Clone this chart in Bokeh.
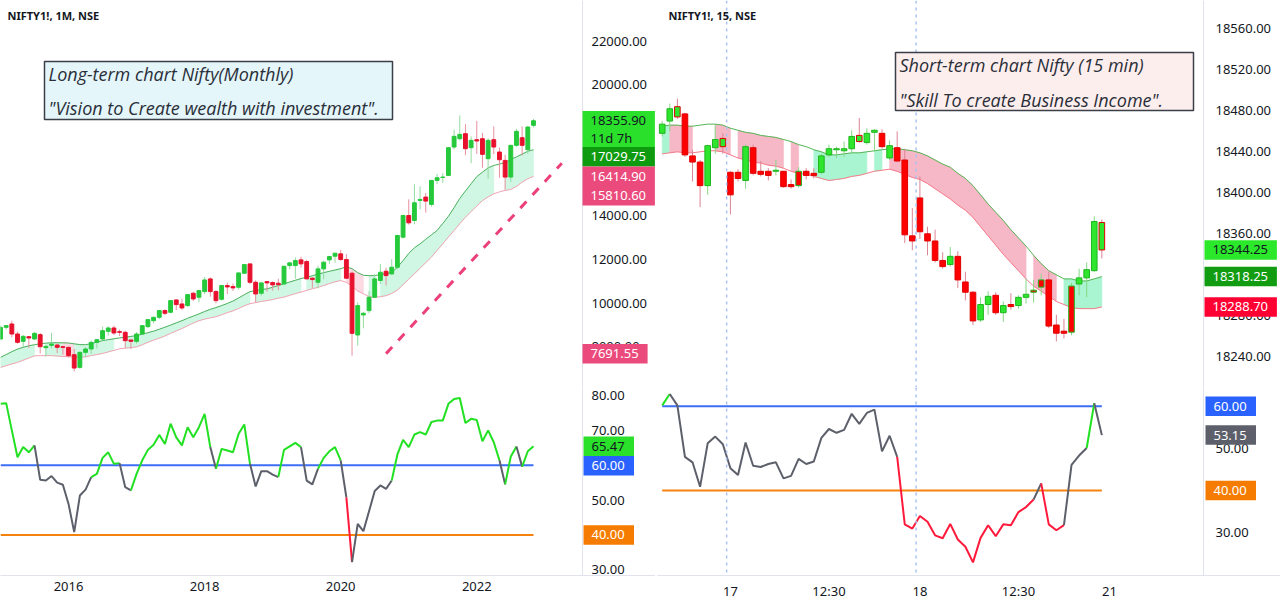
from bokeh.plotting import figure
from bokeh.models import Range1d, FixedTicker, PrintfTickFormatter, Label, Span, BoxAnnotation
from bokeh.layouts import row, column
from bokeh.embed import file_html
from bokeh.resources import INLINE

# ===================== LEFT: NIFTY1!, 1M (Jan 2015 .. Nov 2022) =====================
m_open = [8361, 8896, 9049, 8590, 8254, 8468, 8361, 8560, 7964, 8071, 8086, 8009,
          7979, 7643, 7062, 7750, 7903, 8208, 8361, 8713, 8866, 8698, 8667, 8316,
          8254, 8590, 8927, 9202, 9355, 9661, 9584, 10150, 9966, 9890, 10456, 10272,
          10532, 11113, 10532, 10180, 10807, 10761, 10731, 11373, 11801, 10960, 10456, 10991,
          10945, 10915, 10884, 11725, 11725, 11985, 11908, 11144, 10960, 11572, 11985, 12153,
          12260, 12000, 11374, 8545, 9462, 9661, 10272, 11038, 11465, 11342, 11648, 13025,
          14018, 13789, 14707, 14860, 14524, 15624, 15760, 15853, 17153, 17535, 17765, 17123,
          17490, 17535, 16618, 17490, 16924, 16541, 15777, 17230, 17581, 17031, 18147]
m_high = [8990, 9000, 9202, 8700, 8540, 8500, 8680, 8640, 8100, 8650, 8150, 8050,
          8000, 7903, 7800, 7990, 8280, 8350, 8927, 8950, 8973, 8800, 8743, 8320,
          8680, 8990, 9260, 9380, 9680, 9720, 10130, 10170, 10200, 10400, 10520, 10580,
          11200, 11180, 10600, 10830, 10950, 10900, 11400, 11780, 11820, 11050, 10950, 11000,
          11000, 11120, 11700, 11900, 12100, 12130, 11990, 11200, 11720, 11950, 12170, 12300,
          12444, 12250, 11450, 10043, 9600, 10550, 11340, 11800, 11620, 12020, 13140, 14050,
          14760, 15450, 15350, 15050, 15650, 15920, 15960, 17150, 17950, 18600, 18200, 17640,
          18350, 17800, 17560, 18100, 17130, 16800, 17250, 17990, 18100, 18100, 18443]
m_low = [8300, 8800, 8438, 8150, 7990, 7950, 8320, 7700, 7560, 7930, 7720, 7643,
         7520, 6878, 7000, 7520, 7680, 7930, 8300, 8520, 8550, 8500, 7949, 7900,
         8150, 8540, 8860, 9080, 9270, 9450, 9540, 9690, 9700, 9830, 10100, 10050,
         10420, 10300, 9997, 10120, 10420, 10560, 10620, 11350, 10870, 10043, 10340, 10530,
         10580, 10600, 10820, 11550, 11120, 11630, 11100, 10700, 10680, 11100, 11800, 11850,
         11950, 11180, 7597, 8055, 8850, 9540, 10250, 10880, 10808, 11300, 11560, 12970,
         13600, 13620, 14300, 14150, 14420, 15450, 15510, 15830, 17050, 17450, 16780, 16410,
         16840, 16200, 15700, 16830, 15740, 15200, 15550, 17160, 16760, 16850, 18050]
m_close = [8896, 8973, 8590, 8208, 8484, 8407, 8621, 8009, 8025, 8132, 7979, 7979,
           7597, 7031, 7750, 7903, 8208, 8330, 8743, 8866, 8637, 8667, 8285, 8254,
           8590, 8973, 9248, 9355, 9661, 9538, 10119, 9936, 9783, 10395, 10196, 10578,
           11067, 10532, 10119, 10807, 10746, 10700, 11388, 11770, 10960, 10425, 10930, 10930,
           10838, 10853, 11694, 11847, 11954, 11802, 11114, 11083, 11572, 11878, 12138, 12291,
           12000, 11144, 8621, 9890, 9539, 10272, 11114, 11419, 11266, 11648, 13101, 14018,
           13682, 14600, 14753, 14677, 15624, 15746, 15777, 17123, 17642, 17734, 17077, 17459,
           17429, 16817, 17459, 17153, 16572, 15777, 17230, 17872, 17230, 18070, 18355.90]
m_band_up = [7520, 7650, 7780, 7900, 7980, 8050, 8100, 8140, 8170, 8190, 8190, 8185,
             8178, 8140, 8105, 8100, 8150, 8220, 8285, 8330, 8370, 8410, 8445, 8480,
             8520, 8580, 8650, 8720, 8810, 8900, 9000, 9100, 9200, 9310, 9410, 9510,
             9620, 9720, 9800, 9890, 9990, 10100, 10240, 10390, 10530, 10580, 10620, 10660,
             10730, 10810, 10890, 10970, 11050, 11130, 11190, 11260, 11330, 11400, 11460, 11520,
             11580, 11670, 11580, 11400, 11280, 11260, 11265, 11310, 11360, 11410, 11650, 11950,
             12280, 12540, 12720, 12930, 13130, 13330, 13650, 13980, 14380, 14800, 15140, 15470,
             15800, 16000, 16200, 16310, 16370, 16440, 16590, 16700, 16830, 16960, 17029.75]
m_band_lo = [7060, 7140, 7220, 7290, 7390, 7490, 7590, 7600, 7600, 7600, 7580, 7560,
             7550, 7530, 7520, 7545, 7600, 7650, 7700, 7770, 7840, 7910, 7940, 7970,
             8000, 8100, 8210, 8310, 8400, 8500, 8620, 8730, 8840, 8970, 9090, 9200,
             9270, 9330, 9380, 9470, 9570, 9650, 9760, 9880, 9980, 10030, 10080, 10120,
             10170, 10230, 10280, 10360, 10440, 10510, 10590, 10660, 10730, 10810, 10900, 10980,
             11040, 10960, 10780, 10560, 10430, 10300, 10270, 10300, 10345, 10450, 10600, 10850,
             11100, 11350, 11600, 11860, 12110, 12420, 12720, 13030, 13330, 13640, 13940, 14200,
             14450, 14700, 14870, 15010, 15100, 15170, 15210, 15350, 15550, 15700, 15810.60]
# fill colour of each band segment (g = green, p = pink, w = none)
m_band_state = ("gggggg" "ww" "ggg" "pp" "ggggggg" "ww" "gggggggggggggggggggggg" "w"
                "gggggggg" "w" "gggggg" "w" "ppp" "w" "g" "w" "gggggggggggggggggggg" "ww" "ggggg")
m_rsi = [77.6, 77.8, 70.0, 62.3, 65.2, 63.7, 65.7, 55.8, 55.6, 56.9,
         55.0, 54.4, 48.9, 40.8, 51.3, 53.0, 56.6, 57.5, 62.1, 63.7,
         60.4, 60.6, 53.7, 52.8, 57.5, 61.4, 64.4, 65.9, 68.7, 66.1,
         71.9, 68.0, 65.7, 70.9, 68.0, 70.9, 74.7, 65.2, 59.0, 64.7,
         64.2, 63.7, 69.0, 71.7, 60.4, 53.9, 58.3, 58.3, 57.3, 56.6,
         64.4, 65.4, 66.4, 65.2, 55.6, 54.5, 59.0, 62.1, 64.0, 65.2,
         61.4, 50.8, 32.2, 43.2, 41.1, 46.8, 52.6, 54.2, 53.2, 55.6,
         63.1, 67.3, 65.2, 68.8, 69.5, 68.8, 72.4, 72.8, 72.8, 77.6,
         79.0, 79.3, 72.1, 73.3, 73.0, 66.9, 70.0, 66.6, 61.4, 54.5,
         62.5, 65.4, 59.6, 64.0, 65.47]
# colour of each RSI segment (g = green, k = grey, r = red)
m_rsi_state = ("gggggg" "kkkkkkkkkk" "ggggg" "kk" "gggggggggggggg" "k" "gggggg" "kkkkk"
               "gggg" "kkk" "gggg" "k" "r" "kkkkkkk" "ggggggggggggggggggg" "k" "gg" "k" "gg")
m_tick_pos = [12, 36, 60, 84]
m_tick_lab = ["2016", "2018", "2020", "2022"]
m_trend_x = [68, 99]
m_trend_y = [7691.55, 16414.90]
m_price_ticks = [8000, 10000, 12000, 14000, 16000, 18000, 20000, 22000]
m_rsi_ticks = [30, 40, 50, 60, 70, 80]
m_rsi_levels = [60, 40]
m_price_tags = [("18355.90\n11d 7h", 18355.90, "#2ae02a", "#131722"),
                ("17029.75", 17029.75, "#0f9b0f", "#ffffff"),
                ("16414.90", 16414.90, "#eb4a7c", "#ffffff"),
                ("15810.60", 15810.60, "#eb4a7c", "#ffffff"),
                ("7691.55", 7691.55, "#eb4a7c", "#ffffff")]
m_rsi_tags = [("65.47", 65.47, "#2ae02a", "#131722"),
              ("60.00", 60.0, "#2962ff", "#ffffff"),
              ("40.00", 40.0, "#f57c00", "#ffffff")]

# ===================== RIGHT: NIFTY1!, 15 (16 Nov 13:15 .. 18 Nov 15:15) =====================
s_open = [18458, 18470, 18484, 18477, 18436, 18430, 18407, 18444, 18453, 18420,
          18420, 18412, 18444, 18421, 18421, 18421, 18421, 18408, 18407, 18421,
          18419, 18420, 18437, 18442, 18441, 18443, 18456, 18449, 18459, 18458,
          18434, 18444, 18432, 18358, 18395, 18360, 18353, 18334, 18330, 18338,
          18313, 18303, 18276, 18291, 18300, 18283, 18291, 18290, 18298, 18303,
          18308, 18315, 18271, 18265, 18264, 18311, 18317, 18324, 18371]
s_high = [18470, 18487, 18492, 18478, 18442, 18432, 18447, 18466, 18458, 18421,
          18423, 18447, 18447, 18431, 18424, 18432, 18421, 18413, 18425, 18424,
          18424, 18438, 18447, 18445, 18450, 18461, 18473, 18463, 18462, 18462,
          18451, 18460, 18443, 18385, 18416, 18367, 18364, 18342, 18347, 18343,
          18323, 18304, 18298, 18304, 18303, 18294, 18302, 18300, 18316, 18315,
          18321, 18323, 18281, 18277, 18312, 18326, 18332, 18377, 18374]
s_low = [18455, 18460, 18472, 18435, 18411, 18386, 18398, 18438, 18438, 18379,
         18411, 18404, 18417, 18416, 18412, 18417, 18405, 18404, 18405, 18413,
         18414, 18418, 18435, 18434, 18435, 18438, 18449, 18447, 18440, 18443,
         18432, 18430, 18351, 18344, 18355, 18339, 18332, 18326, 18328, 18307,
         18295, 18271, 18274, 18281, 18281, 18274, 18286, 18287, 18292, 18293,
         18300, 18268, 18255, 18258, 18261, 18300, 18298, 18323, 18336]
s_close = [18467, 18482, 18474, 18437, 18430, 18407, 18446, 18452, 18445, 18398,
           18414, 18445, 18419, 18418, 18417, 18422, 18406, 18406, 18421, 18417,
           18417, 18436, 18443, 18443, 18443, 18455, 18450, 18458, 18461, 18445,
           18446, 18431, 18359, 18353, 18362, 18353, 18334, 18328, 18338, 18315,
           18303, 18275, 18291, 18299, 18283, 18290, 18289, 18298, 18301, 18305,
           18315, 18270, 18263, 18263, 18309, 18317, 18325, 18372, 18344.25]
# body colour of each candle (indicator bar colouring)
s_body_state = "gggrrrgggrrgrrrgrrrrrggggggggrgrrrrrrrgrrrggrgrggrrrrrrgggg"
s_band_up = [18465, 18466, 18466, 18465, 18465, 18466, 18467, 18467, 18466, 18463,
             18461, 18459, 18458, 18456, 18455, 18454, 18452, 18450, 18447, 18445,
             18442, 18440, 18437, 18437, 18438, 18439, 18439, 18440, 18441, 18442,
             18443, 18443, 18442, 18441, 18439, 18436, 18432, 18428, 18425, 18419,
             18414, 18407, 18398, 18389, 18381, 18373, 18364, 18356, 18348, 18339,
             18331, 18324, 18320, 18316, 18316, 18314, 18314, 18316, 18318.25]
s_band_lo = [18438, 18439, 18440, 18439, 18439, 18440, 18441, 18441, 18440, 18437,
             18434, 18432, 18430, 18429, 18427, 18426, 18424, 18421, 18419, 18418,
             18416, 18414, 18412, 18413, 18414, 18416, 18417, 18419, 18421, 18422,
             18423, 18421, 18418, 18415, 18413, 18409, 18404, 18399, 18394, 18388,
             18383, 18376, 18367, 18358, 18349, 18340, 18332, 18324, 18316, 18309,
             18304, 18299, 18294, 18291, 18288, 18287, 18287, 18287, 18288.70]
s_band_state = ("g" "ppp" "www" "pp" "w" "pppppp" "w" "p" "ww" "ggggggg" "w" "g" "w"
                "pppppppppppppppppp" "w" "ppp" "w" "ggggg")
s_rsi = [60.2, 62.9, 60.2, 48.0, 46.7, 40.9, 51.2, 52.8, 51.0, 45.3,
         43.7, 51.4, 45.9, 45.6, 46.3, 46.7, 42.9, 43.5, 47.5, 46.3,
         46.9, 52.5, 54.6, 53.7, 54.4, 58.2, 55.8, 58.4, 59.2, 49.3,
         53.0, 48.0, 32.0, 31.0, 34.0, 32.6, 29.4, 28.7, 32.1, 28.4,
         26.7, 23.0, 28.8, 31.8, 29.2, 32.0, 31.8, 34.9, 36.1, 37.9,
         41.7, 32.0, 30.6, 31.8, 46.1, 48.3, 50.1, 60.7, 53.15]
s_rsi_state = "g" + "k" * 30 + "r" * 18 + "k" + "rrr" + "kkk" + "g" + "k"
s_tick_pos = [9, 22, 34, 47, 59]
s_tick_lab = ["17", "12:30", "18", "12:30", "21"]
s_session_breaks = [8.5, 33.5]
s_price_ticks = [18240, 18280, 18320, 18360, 18400, 18440, 18480, 18520, 18560]
s_rsi_ticks = [30, 40, 50, 60]
s_rsi_levels = [60, 40]
s_price_tags = [("18344.25", 18344.25, "#2be82b", "#131722"),
                ("18318.25", 18318.25, "#129c12", "#ffffff"),
                ("18288.70", 18288.70, "#ff0033", "#ffffff")]
s_rsi_tags = [("60.00", 60.0, "#2962ff", "#ffffff"),
              ("53.15", 53.15, "#5d606b", "#ffffff"),
              ("40.00", 40.0, "#f57c00", "#ffffff")]

# ===================== styling / layout =====================
FONT = "Noto Sans"
NOTE_FONT = "Open Sans"
TXT = "#131722"
SEP = "#e0e3eb"
TOP_H, BOT_H, XAX_H = 387, 215, 27
L_W, R_W = 655, 625
R_GAP = 2
L_BAR, R_BAR = 5.67, 7.58          # pixels per bar
L_PLOT, R_PLOT_END = 582, 1203     # right edge of the chart area (pixels)
R_START = -0.62                    # bar index at x = 657 px

xl = Range1d(0, L_W / L_BAR)
xr = Range1d(R_START, R_START + (R_W - R_GAP) / R_BAR)
lpx = lambda px: px / L_BAR
rpx = lambda px: R_START + (px - (L_W + R_GAP)) / R_BAR


def mk(width, height, xrange, yrange, mb_left, xaxis):
    p = figure(width=width, height=height, x_range=xrange, y_range=yrange,
               output_backend="svg", toolbar_location=None,
               x_axis_location="below" if xaxis else None, y_axis_location="right",
               min_border_left=mb_left, min_border_right=0,
               min_border_top=0, min_border_bottom=XAX_H if xaxis else 0)
    p.outline_line_color = None
    p.xgrid.visible = False
    p.ygrid.visible = False
    p.background_fill_color = "white"
    p.border_fill_color = "white"
    return p


def style_y(p, ticks, label_px, fig_right_px):
    ax = p.yaxis[0]
    ax.ticker = FixedTicker(ticks=ticks)
    ax.formatter = PrintfTickFormatter(format="%.2f")
    ax.major_label_text_font = FONT
    ax.major_label_text_font_size = "13px"
    ax.major_label_text_color = TXT
    ax.major_tick_out = 0
    ax.major_tick_in = 0
    ax.minor_tick_out = 0
    ax.minor_tick_in = 0
    ax.axis_line_color = None
    ax.major_label_standoff = label_px - fig_right_px


def style_x(p, ticks, labels):
    ax = p.xaxis[0]
    ax.ticker = FixedTicker(ticks=ticks)
    ax.major_label_overrides = {t: s for t, s in zip(ticks, labels)}
    ax.major_label_text_font = FONT
    ax.major_label_text_font_size = "13px"
    ax.major_label_text_color = TXT
    ax.major_tick_out = 0
    ax.major_tick_in = 0
    ax.minor_tick_out = 0
    ax.minor_tick_in = 0
    ax.axis_line_color = SEP
    ax.major_label_standoff = 6


def candles(p, o, h, l, c, body_state, width, up_col, dn_col, up_border, dn_border, up_wick, dn_wick):
    idx = list(range(len(o)))
    rising = [ci >= oi for oi, ci in zip(o, c)]
    if body_state is None:
        fills = [up_col if r else dn_col for r in rising]
    else:
        fills = [up_col if s == "g" else dn_col for s in body_state]
    p.segment(x0=idx, y0=l, x1=idx, y1=h,
              line_color=[up_wick if r else dn_wick for r in rising], line_width=1)
    p.vbar(x=idx, top=[max(a, b) for a, b in zip(o, c)], bottom=[min(a, b) for a, b in zip(o, c)],
           width=width, fill_color=fills,
           line_color=[up_border if r else dn_border for r in rising], line_width=1)


def band(p, up, lo, state, colors, up_line, lo_line):
    xs, ys, cs = [], [], []
    i = 1
    n = len(up)
    while i < n:
        s = state[i - 1]
        j = i
        while j + 1 < n and state[j] == s:
            j += 1
        if s != "w":
            xx = list(range(i - 1, j + 1))
            xs.append(xx + xx[::-1])
            ys.append([up[k] for k in xx] + [lo[k] for k in xx[::-1]])
            cs.append(colors[s])
        i = j + 1
    p.patches(xs, ys, fill_color=cs, line_color=cs, line_width=0.6)
    idx = list(range(n))
    p.line(idx, up, line_color=up_line, line_width=1)
    p.line(idx, lo, line_color=lo_line, line_width=1)


def rsi_line(p, vals, state, colors):
    xs, ys, cs = [], [], []
    cur = None
    for i in range(1, len(vals)):
        s = state[i - 1]
        if s != cur:
            xs.append([i - 1])
            ys.append([vals[i - 1]])
            cs.append(colors[s])
            cur = s
        xs[-1].append(i)
        ys[-1].append(vals[i])
    p.multi_line(xs, ys, line_color=cs, line_width=2)


def tags(p, items, frame_h, yrange, fx, box_left_px):
    """Price tags on the scale, stacked so that they do not overlap."""
    span = yrange.end - yrange.start
    to_px = lambda v: (yrange.end - v) / span * frame_h
    to_val = lambda px: yrange.end - px / frame_h * span
    one = 19.5
    prev_bottom = -1e9
    for text, val, bg, fg in sorted(items, key=lambda t: -t[1]):
        lines = text.split("\n")
        h = one if len(lines) == 1 else 36
        top = max(to_px(val) - one / 2, prev_bottom)
        prev_bottom = top + h
        w = 7.3 * max(len(s) for s in lines) + 14
        p.add_layout(BoxAnnotation(left=fx(box_left_px), right=fx(box_left_px + w),
                                   top=to_val(top), bottom=to_val(top + h),
                                   fill_color=bg, fill_alpha=1, line_color=None))
        for k, s in enumerate(lines):
            p.add_layout(Label(x=fx(box_left_px + 8), y=to_val(top + one / 2 + k * 17), text=s,
                               text_align="left", text_baseline="middle",
                               text_font=FONT, text_font_size="13px", text_color=fg))


def separators(p, x_edge, yrange, top_pane):
    p.add_layout(Span(location=x_edge, dimension="height", line_color=SEP, line_width=1))
    if top_pane:
        p.add_layout(Span(location=yrange.start, dimension="width", line_color=SEP, line_width=1))


def note(p, fx, fy, left, right, top, bottom, lines, fill):
    p.add_layout(BoxAnnotation(left=fx(left), right=fx(right), top=fy(top), bottom=fy(bottom),
                               fill_color=fill, fill_alpha=1, line_color="#3b3f48", line_width=1.5,
                               line_alpha=1))
    for text, py in lines:
        p.add_layout(Label(x=fx(left + 4), y=fy(py), text=text, text_font=NOTE_FONT,
                           text_font_size="18px", text_font_style="italic", text_color="#2a2e39",
                           text_baseline="middle"))


# ---- left price pane ----
yl_top = Range1d(22000 - (TOP_H - 40.7) * 2000 / 43.67, 22000 - (0 - 40.7) * 2000 / 43.67)
p1 = mk(L_W, TOP_H, xl, yl_top, 0, False)
style_y(p1, m_price_ticks, 591, L_W)
separators(p1, lpx(L_PLOT), yl_top, True)
band(p1, m_band_up, m_band_lo, m_band_state, {"g": "#d0f7e3", "p": "#fbdae3"}, "#4cb05c", "#f2a3b4")
candles(p1, m_open, m_high, m_low, m_close, None, 0.68,
        "#25c93b", "#e8112d", "#25c93b", "#e8112d", "#93dba0", "#e8909e")
p1.line(m_trend_x, m_trend_y, line_color="#e91e63", line_width=3, line_dash="9 9", line_alpha=0.85)

ly = lambda py: yl_top.end - py * (yl_top.end - yl_top.start) / TOP_H
p1.add_layout(Label(x=lpx(7), y=ly(15), text="NIFTY1!, 1M, NSE", text_font=FONT, text_font_size="11px",
                    text_font_style="bold", text_color=TXT, text_baseline="middle"))
note(p1, lpx, ly, 44, 392, 61, 119,
     [("Long-term chart Nifty(Monthly)", 73),
      ("\"Vision to Create wealth with investment\".", 107)], "#e4f6fa")
tags(p1, m_price_tags, TOP_H, yl_top, lpx, L_PLOT)

# ---- left RSI pane ----
RSI_FH = BOT_H - XAX_H
yl_bot = Range1d(80 - (575 - 395) / 3.486, 80 - (387 - 395) / 3.486)
p3 = mk(L_W, BOT_H, xl, yl_bot, 0, True)
style_y(p3, m_rsi_ticks, 591, L_W)
style_x(p3, m_tick_pos, m_tick_lab)
separators(p3, lpx(L_PLOT), yl_bot, False)
p3.line([0, len(m_rsi) - 1], [m_rsi_levels[0]] * 2, line_color="#3d6ef5", line_width=2)
p3.line([0, len(m_rsi) - 1], [m_rsi_levels[1]] * 2, line_color="#f5820d", line_width=2)
rsi_line(p3, m_rsi, m_rsi_state, {"g": "#22e022", "k": "#5d606b", "r": "#ff1a3c"})
tags(p3, m_rsi_tags, RSI_FH, yl_bot, lpx, L_PLOT + 1)

# ---- right price pane ----
yr_top = Range1d(18560 - (TOP_H - 28.3) * 0.9756, 18560 - (0 - 28.3) * 0.9756)
p2 = mk(R_W, TOP_H, xr, yr_top, R_GAP, False)
style_y(p2, s_price_ticks, 1215, L_W + R_W)
separators(p2, rpx(R_PLOT_END), yr_top, True)
band(p2, s_band_up, s_band_lo, s_band_state, {"g": "#a9f5d2", "p": "#f6b8c6"}, "#55b555", "#f57a8a")
candles(p2, s_open, s_high, s_low, s_close, s_body_state, 0.74,
        "#2ee62e", "#ff0000", "#1fb51f", "#e00000", "#86d886", "#dc8494")
for b in s_session_breaks:
    p2.add_layout(Span(location=b, dimension="height", line_color="#a9c3f2", line_width=1.5, line_dash="3 4"))

ry = lambda py: yr_top.end - py * (yr_top.end - yr_top.start) / TOP_H
p2.add_layout(Label(x=rpx(668), y=ry(15), text="NIFTY1!, 15, NSE", text_font=FONT, text_font_size="11px",
                    text_font_style="bold", text_color=TXT, text_baseline="middle"))
note(p2, rpx, ry, 895, 1193, 52, 110,
     [("Short-term chart Nifty (15 min)", 64),
      ("\"Skill To create Business Income\".", 99)], "#fdeeee")
tags(p2, s_price_tags, TOP_H, yr_top, rpx, R_PLOT_END + 1)

# ---- right RSI pane ----
yr_bot = Range1d(60 - (575 - 405.7) / 4.22, 60 - (387 - 405.7) / 4.22)
p4 = mk(R_W, BOT_H, xr, yr_bot, R_GAP, True)
style_y(p4, s_rsi_ticks, 1215, L_W + R_W)
style_x(p4, s_tick_pos, s_tick_lab)
separators(p4, rpx(R_PLOT_END), yr_bot, False)
for b in s_session_breaks:
    p4.add_layout(Span(location=b, dimension="height", line_color="#a9c3f2", line_width=1.5, line_dash="3 4"))
p4.line([0, len(s_rsi) - 1], [s_rsi_levels[0]] * 2, line_color="#3d6ef5", line_width=2)
p4.line([0, len(s_rsi) - 1], [s_rsi_levels[1]] * 2, line_color="#f5820d", line_width=2)
rsi_line(p4, s_rsi, s_rsi_state, {"g": "#22e022", "k": "#5d606b", "r": "#ff1a3c"})
tags(p4, s_rsi_tags, RSI_FH, yr_bot, rpx, R_PLOT_END + 2)

layout = column(row(p1, p2), row(p3, p4))
open("out.html", "w").write(file_html(layout, INLINE))
